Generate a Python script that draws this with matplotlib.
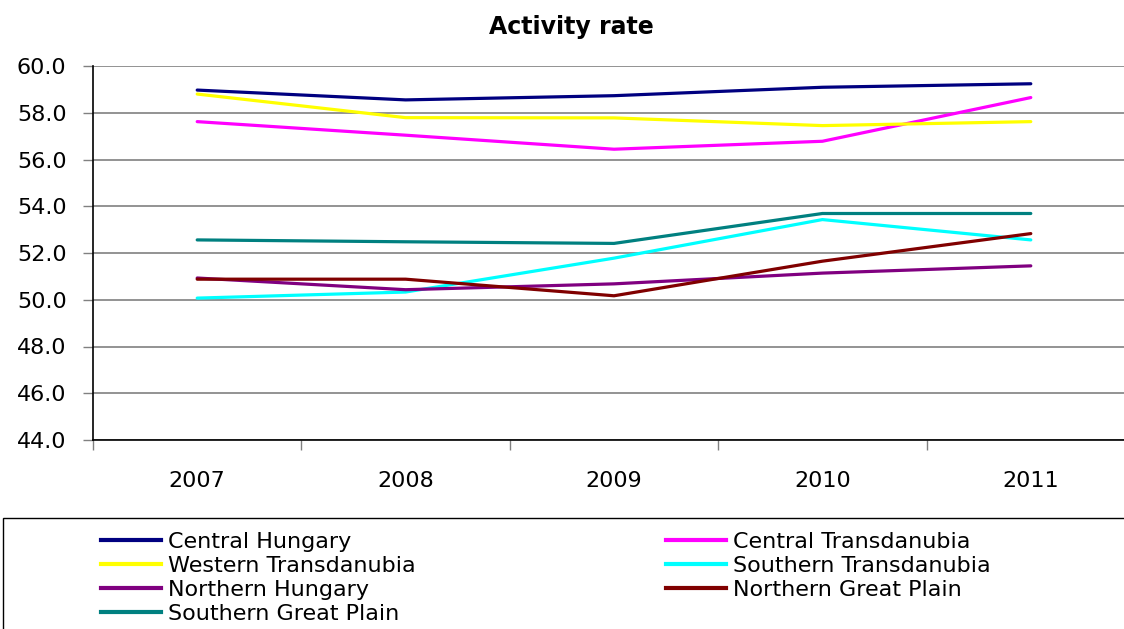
import matplotlib
matplotlib.use("Agg")
import matplotlib.pyplot as plt
from matplotlib.patches import Rectangle
from matplotlib.lines import Line2D

years = ["2007", "2008", "2009", "2010", "2011"]
central_hungary = [58.97, 58.55, 58.73, 59.09, 59.24]
central_transdanubia = [57.62, 57.04, 56.44, 56.78, 58.65]
western_transdanubia = [58.80, 57.79, 57.78, 57.45, 57.62]
southern_transdanubia = [50.07, 50.33, 51.78, 53.43, 52.56]
northern_hungary = [50.93, 50.43, 50.68, 51.14, 51.45]
northern_great_plain = [50.88, 50.88, 50.17, 51.65, 52.83]
southern_great_plain = [52.56, 52.48, 52.41, 53.69, 53.69]

series = [
    ("Central Hungary", central_hungary, "#000080"),
    ("Central Transdanubia", central_transdanubia, "#FF00FF"),
    ("Western Transdanubia", western_transdanubia, "#FFFF00"),
    ("Southern Transdanubia", southern_transdanubia, "#00FFFF"),
    ("Northern Hungary", northern_hungary, "#800080"),
    ("Northern Great Plain", northern_great_plain, "#800000"),
    ("Southern Great Plain", southern_great_plain, "#008080"),
]

W, H = 1124, 629
fig = plt.figure(figsize=(W / 100, H / 100), dpi=100)
ax = fig.add_axes([93 / W, 1 - 440 / H, (1135 - 93) / W, (440 - 66) / H])

x = list(range(len(years)))
handles = {}
for name, vals, col in series:
    (ln,) = ax.plot(x, vals, color=col, lw=2.3, solid_capstyle="round", zorder=3)
    handles[name] = ln

ax.set_xlim(-0.5, len(years) - 0.5)
ax.set_ylim(44, 60)
ax.set_yticks([44 + 2 * i for i in range(9)])
ax.set_yticklabels([f"{44 + 2 * i:.1f}" for i in range(9)], fontsize=16)
ax.set_xticks(x)
ax.set_xticklabels(years, fontsize=16)
ax.set_xticks([i - 0.5 for i in range(len(years) + 1)], minor=True)
ax.tick_params(axis="x", which="major", length=0, pad=22)
ax.tick_params(axis="x", which="minor", length=7, width=1, color="#808080", direction="out")
ax.tick_params(axis="y", length=7, width=1, color="#808080", direction="out", pad=12)
ax.grid(axis="y", color="#808080", lw=1.2, zorder=1)
for s in ["top", "right"]:
    ax.spines[s].set_visible(False)
for s in ["left", "bottom"]:
    ax.spines[s].set_color("#000000")
    ax.spines[s].set_linewidth(1.2)

fig.text(571 / W, 1 - 27 / H, "Activity rate", ha="center", va="center",
         fontsize=17, fontweight="bold")

# legend box
fig.patches.append(Rectangle((3 / W, -0.1), 1.2, (1 - 518 / H) + 0.1,
                             transform=fig.transFigure, fill=False,
                             edgecolor="#000000", lw=1.0))

col1 = ["Central Hungary", "Western Transdanubia", "Northern Hungary", "Southern Great Plain"]
col2 = ["Central Transdanubia", "Southern Transdanubia", "Northern Great Plain"]

def mk(names):
    return [Line2D([0], [0], color=handles[n].get_color(), lw=3) for n in names]

common = dict(frameon=False, fontsize=16, handlelength=2.7, handletextpad=0.3,
              labelspacing=0.18, borderpad=0, borderaxespad=0, loc="upper left")
leg1 = fig.legend(mk(col1), col1, bbox_to_anchor=(101 / W, 1 - 532 / H), **common)
leg2 = fig.legend(mk(col2), col2, bbox_to_anchor=(666 / W, 1 - 532 / H), **common)

fig.savefig("out.png", dpi=100)
